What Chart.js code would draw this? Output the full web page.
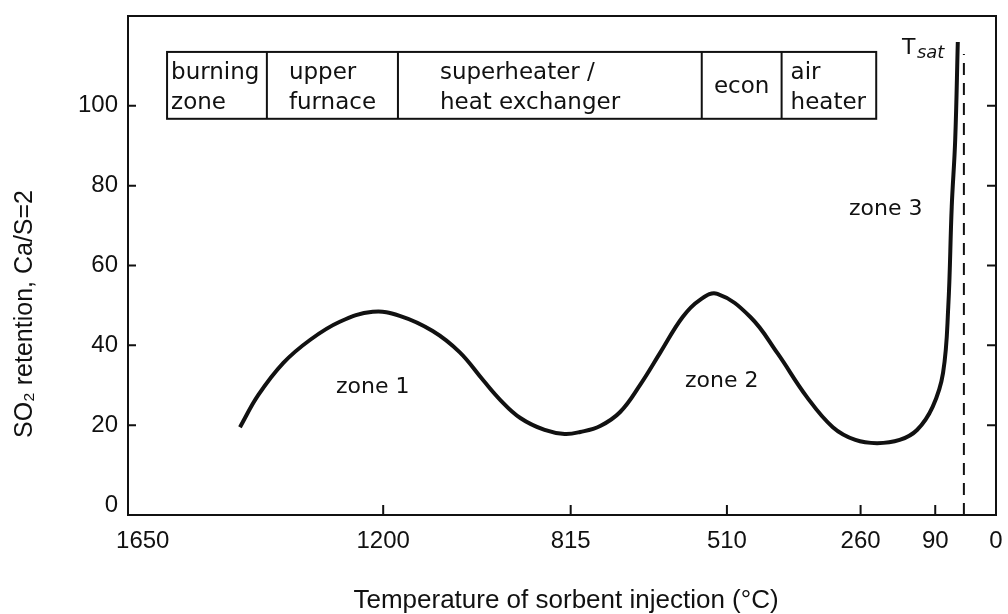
<!DOCTYPE html>
<html lang="en">
<head>
  <meta charset="UTF-8" />
  <title>SO2 retention vs sorbent injection temperature</title>
  <script src="https://cdn.jsdelivr.net/npm/chart.js"></script>
  <style>
    html, body { margin: 0; padding: 0; background: #fff; }
    #wrap { width: 1008px; height: 614px; }
  </style>
</head>
<body>
  <div id="wrap"><canvas id="grafico" width="1008" height="614"></canvas></div>

  <script>
    // x is read as position along the (non-linear) temperature axis, 0..100
    const tickPos = [1.7, 29.4, 51.0, 69.0, 84.4, 93.0, 100];
    const tickLabels = ['1650', '1200', '815', '510', '260', '90', '0'];
    const markedTicks = [29.4, 51.0, 69.0, 84.4, 93.0];
    const tSatPos = 96.3;
    const yTicks = [0, 20, 40, 60, 80, 100];

    const curveX = [12.9, 15.0, 17.9, 21.0, 24.4, 28.2, 31.3, 35.1, 38.2, 40.9, 42.9, 45.2, 48.0, 50.3, 52.1,
                    54.4, 56.7, 59.0, 61.3, 63.9, 65.9, 67.9, 71.7, 74.8, 78.2, 81.2, 83.8, 86.3, 88.9, 90.9,
                    92.7, 93.9, 94.5, 94.9, 95.3, 95.6];
    const curveY = [19.5, 27.5, 35.6, 41.4, 45.9, 48.4, 47.4, 43.6, 38.3, 31.3, 26.3, 21.8, 18.8, 17.8, 18.3,
                    19.8, 23.3, 30.1, 38.1, 47.1, 51.4, 52.9, 47.1, 38.1, 27.1, 19.5, 16.3, 15.5, 16.3, 18.8,
                    24.6, 33.1, 49.6, 74.7, 91.5, 116.0];

    // equipment zones along the axis
    const zoneEdges = [4.5, 16.0, 31.1, 66.1, 75.3, 86.2];
    const zoneNames = [['burning', 'zone'], ['upper', 'furnace'], ['superheater /', 'heat exchanger'], ['econ'], ['air', 'heater']];
    const zoneLabels = [['zone 1', 28.2, 29.5], ['zone 2', 68.4, 31], ['zone 3', 87.3, 74]];

    const plain = '"Liberation Sans", Arial, sans-serif';
    const round = '"DejaVu Sans", sans-serif';

    const frame = {
      id: 'frame',
      afterDraw(chart) {
        const { ctx, chartArea: a, scales: { x, y } } = chart;
        ctx.save();
        ctx.strokeStyle = '#111';
        ctx.lineWidth = 2;
        ctx.strokeRect(a.left, a.top, a.right - a.left, a.bottom - a.top);

        // inward ticks
        ctx.beginPath();
        yTicks.filter(v => v > 0).forEach(v => {
          const py = y.getPixelForValue(v);
          ctx.moveTo(a.left, py); ctx.lineTo(a.left + 8, py);
          ctx.moveTo(a.right, py); ctx.lineTo(a.right - 9, py);
        });
        markedTicks.forEach(v => {
          const px = x.getPixelForValue(v);
          ctx.moveTo(px, a.bottom); ctx.lineTo(px, a.bottom - 10);
        });
        ctx.stroke();

        // zone table
        const top = y.getPixelForValue(113.5), bot = y.getPixelForValue(96.75);
        ctx.strokeRect(x.getPixelForValue(zoneEdges[0]), top,
          x.getPixelForValue(zoneEdges[zoneEdges.length - 1]) - x.getPixelForValue(zoneEdges[0]), bot - top);
        ctx.beginPath();
        zoneEdges.slice(1, -1).forEach(v => {
          const px = x.getPixelForValue(v);
          ctx.moveTo(px, top); ctx.lineTo(px, bot);
        });
        ctx.stroke();

        ctx.fillStyle = '#111';
        ctx.font = '23px ' + round;
        ctx.textBaseline = 'alphabetic';
        const leftPad = [4, 22, 42, 0, 9];
        zoneNames.forEach((lines, i) => {
          const l = x.getPixelForValue(zoneEdges[i]), r = x.getPixelForValue(zoneEdges[i + 1]);
          if (lines.length === 1) {
            ctx.textAlign = 'center';
            ctx.fillText(lines[0], (l + r) / 2, (top + bot) / 2 + 8);
          } else {
            ctx.textAlign = 'left';
            ctx.fillText(lines[0], l + leftPad[i], top + 27);
            ctx.fillText(lines[1], l + leftPad[i], top + 57);
          }
        });

        ctx.font = '22px ' + round;
        ctx.textAlign = 'center';
        ctx.textBaseline = 'middle';
        zoneLabels.forEach(([t, vx, vy]) => ctx.fillText(t, x.getPixelForValue(vx), y.getPixelForValue(vy)));

        // T_sat
        const tx = x.getPixelForValue(tSatPos) - 62, ty = y.getPixelForValue(113);
        ctx.textAlign = 'left';
        ctx.textBaseline = 'alphabetic';
        ctx.font = '22px ' + round;
        ctx.fillText('T', tx, ty);
        ctx.font = 'italic 18px ' + round;
        ctx.fillText('sat', tx + 15, ty + 4);

        // axis titles
        ctx.font = '26px ' + plain;
        ctx.textAlign = 'center';
        ctx.textBaseline = 'middle';
        ctx.fillText('Temperature of sorbent injection (°C)', 566, 601);
        ctx.translate(25, 314);
        ctx.rotate(-Math.PI / 2);
        ctx.font = '25px ' + plain;
        ctx.fillText('SO₂ retention, Ca/S=2', 0, 0);
        ctx.restore();
      }
    };

    new Chart(document.getElementById('grafico'), {
      type: 'line',
      data: {
        datasets: [
          {
            data: curveX.map((v, i) => ({ x: v, y: curveY[i] })),
            borderColor: '#111',
            borderWidth: 4,
            pointRadius: 0,
            tension: 0.4,
            fill: false
          },
          {
            data: [{ x: tSatPos, y: -2.5 }, { x: tSatPos, y: 113 }],
            borderColor: '#111',
            borderWidth: 2,
            borderDash: [12, 8],
            pointRadius: 0,
            fill: false
          }
        ]
      },
      options: {
        responsive: false,
        animation: false,
        layout: { padding: { top: 16, right: 12, left: 0, bottom: 0 } },
        plugins: { legend: { display: false }, tooltip: { enabled: false } },
        scales: {
          x: {
            type: 'linear',
            min: 0, max: 100,
            afterFit: s => { s.height = 99; s.paddingLeft = 0; s.paddingRight = 0; },
            afterBuildTicks: s => { s.ticks = tickPos.map(v => ({ value: v })); },
            grid: { display: false, drawTicks: false },
            border: { display: false },
            ticks: {
              autoSkip: false, maxRotation: 0, padding: 12, color: '#111',
              font: { family: plain, size: 24 },
              callback: (v, i) => tickLabels[i]
            }
          },
          y: {
            min: -2.5, max: 122.5,
            afterFit: s => { s.width = 128; s.paddingTop = 0; s.paddingBottom = 0; },
            afterBuildTicks: s => { s.ticks = yTicks.map(v => ({ value: v })); },
            grid: { display: false, drawTicks: false },
            border: { display: false },
            ticks: { padding: 10, color: '#111', font: { family: plain, size: 24 } }
          }
        }
      },
      plugins: [frame]
    });
  </script>
</body>
</html>
